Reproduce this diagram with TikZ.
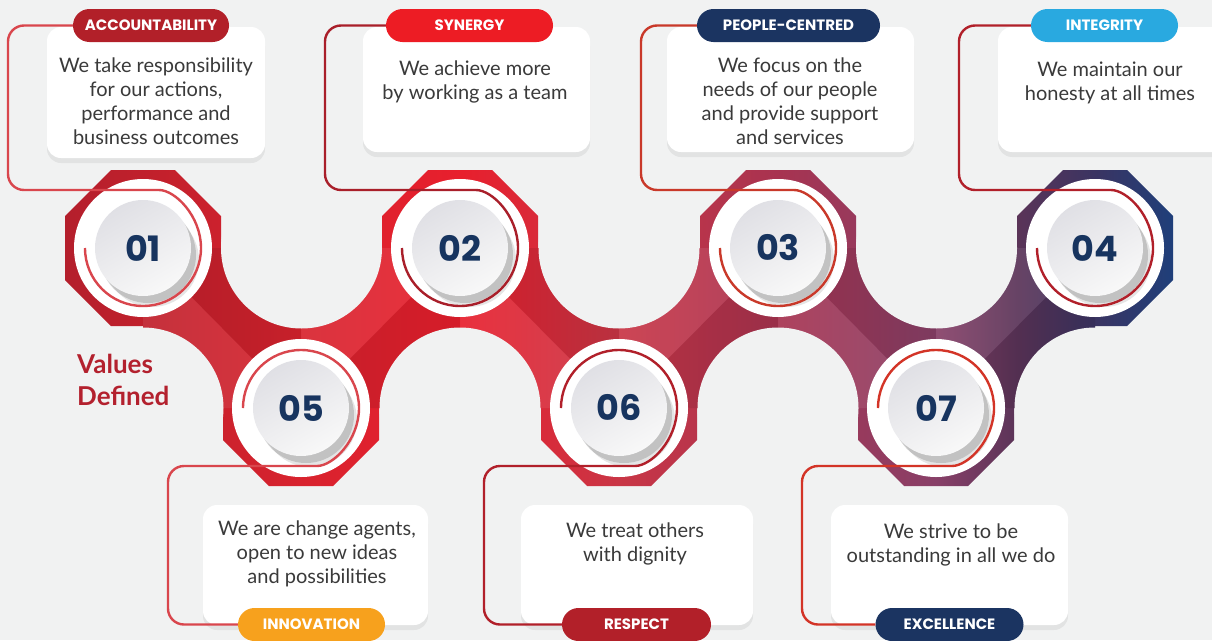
\documentclass[tikz,border=0pt]{standalone}
\usepackage{fontspec}
\setmainfont{Lato}
\newfontfamily\pillfont{Poppins}
\usetikzlibrary{shadows}
\definecolor{bgcol}{HTML}{F1F2F2}
\definecolor{valred}{HTML}{B3212E}
\definecolor{numblue}{HTML}{17345F}
\definecolor{bodytext}{HTML}{3A3A3A}
\definecolor{accred}{HTML}{B22029}
\definecolor{synred}{HTML}{ED1C24}
\definecolor{navy}{HTML}{1B3461}
\definecolor{intblue}{HTML}{29A9E0}
\definecolor{innorange}{HTML}{F7A11D}
\definecolor{linkA}{HTML}{D9464D}
\definecolor{linkB}{HTML}{A91F2A}
\definecolor{linkC}{HTML}{C9392A}
\definecolor{linkD}{HTML}{B1202A}
\definecolor{linkE}{HTML}{D33427}
\definecolor{discA}{HTML}{E0E0E5}
\definecolor{discB}{HTML}{F8F8F8}
%% colours of the band, left to right
\definecolor{bandA}{HTML}{B41F2C}
\definecolor{bandB}{HTML}{C0202C}
\definecolor{bandC}{HTML}{D8232E}
\definecolor{bandD}{HTML}{E81F2D}
\definecolor{bandE}{HTML}{C93646}
\definecolor{bandF}{HTML}{A83350}
\definecolor{bandG}{HTML}{884068}
\definecolor{bandH}{HTML}{5A3458}
\definecolor{bandI}{HTML}{3A3462}
\definecolor{bandJ}{HTML}{1F3F7A}
\pgfdeclarehorizontalshading{valband}{100bp}{color(0bp)=(bandA); color(25bp)=(bandA); color(28.5bp)=(bandB); color(35.6bp)=(bandC); color(42.9bp)=(bandD); color(50bp)=(bandE); color(57.1bp)=(bandF); color(64.3bp)=(bandG); color(68bp)=(bandH); color(71.5bp)=(bandI); color(75bp)=(bandJ); color(100bp)=(bandJ)}
\begin{document}
\begin{tikzpicture}
[x=1pt,y=-1pt,
 boxstyle/.style={fill=white, rounded corners=14pt, inner sep=0pt, drop shadow={shadow xshift=0pt, shadow yshift=-5pt, opacity=0.06, fill=black}},
 pillstyle/.style={rounded corners=16.5pt, minimum height=33pt, inner sep=0pt, text=white, font=\pillfont\bfseries\fontsize{15}{18}\selectfont},
 bodystyle/.style={align=center, inner sep=0pt, anchor=north, text=bodytext, font=\fontsize{20}{24}\selectfont},
 numstyle/.style={text=numblue, font=\pillfont\bfseries\fontsize{35}{35}\selectfont},
 ringstyle/.style={circle, fill=white, minimum size=138pt, inner sep=0pt},
 linkstyle/.style={line width=2.4pt, rounded corners=16pt}]
\useasboundingbox (0,0) rectangle (1212,640);
\fill[bgcol] (0,0) rectangle (1212,640);
%% the band of octagons
\shade[shading=valband] (65,216) -- (111,170) -- (175,170) -- (221,216) -- (221,248)
 -- (382,248) -- (382,216) -- (428,170) -- (492,170) -- (538,216) -- (538,248)
 -- (700,248) -- (700,216) -- (746,170) -- (810,170) -- (856,216) -- (856,248)
 -- (1017,248) -- (1017,216) -- (1063,170) -- (1127,170) -- (1173,216) -- (1173,280) -- (1127,326) -- (1095,326)
 -- (1095,408) -- (1014,408) -- (1014,440) -- (968,486) -- (904,486) -- (858,440) -- (858,408)
 -- (697,408) -- (697,440) -- (651,486) -- (587,486) -- (541,440) -- (541,408)
 -- (379,408) -- (379,440) -- (333,486) -- (269,486) -- (223,440) -- (223,408)
 -- (143,408) -- (143,326) -- (111,326) -- (65,280) -- cycle;
%% light and dark facets
\foreach \px/\py/\qx/\qy in {143/248/301/408, 301/408/460/248, 460/248/619/408,
  619/408/778/248, 778/248/936/408, 936/408/1095/248}{
  \fill[white, opacity=0.08] (\px,\py) -- (\qx,\qy) -- (\px,\qy) -- cycle;
  \fill[black, opacity=0.08] (\px,\py) -- (\qx,\qy) -- (\qx,\py) -- cycle;
}
%% round cut-outs
\foreach \cx/\cy in {301.5/248, 619/248, 936.5/248, 143/408, 460/408, 778/408, 1095/408}
  \fill[bgcol] (\cx,\cy) circle[radius=80.5];
%% numbered discs
\foreach \cx/\cy/\num in {143/248/01, 460/248/02, 778/248/03, 1095/248/04,
  301/408/05, 619/408/06, 936/408/07}{
  \node[ringstyle] (c\num) at (\cx,\cy) {};
  \fill[black!20, opacity=0.5] (\cx+9,\cy+12) circle[radius=47];
  \fill[black!35, opacity=0.55] (\cx+5,\cy+7) circle[radius=48];
  \shade[top color=discA, bottom color=discB, shading angle=30] (\cx,\cy) circle[radius=48];
  \node[numstyle] (n\num) at (\cx,\cy) {\num};
}
\node[anchor=north west, align=left, inner sep=0pt, text=valred, font=\bfseries\fontsize{26}{32}\selectfont] (title) at (77,354) {Values\\Defined};
%% text boxes
\node[boxstyle, minimum width=218pt, minimum height=131pt] (box1) at (156,92.5) {};
\node[boxstyle, minimum width=227pt, minimum height=125pt] (box2) at (476.5,89.5) {};
\node[boxstyle, minimum width=247pt, minimum height=125pt] (box3) at (790.5,89.5) {};
\node[boxstyle, minimum width=242pt, minimum height=125pt] (box4) at (1119,89.5) {};
\node[boxstyle, minimum width=225pt, minimum height=120pt] (box5) at (315.5,565) {};
\node[boxstyle, minimum width=232pt, minimum height=120pt] (box6) at (637,565) {};
\node[boxstyle, minimum width=237pt, minimum height=120pt] (box7) at (949.5,565) {};
\node[bodystyle] (txt1) at (156,57.5) {We take responsibility\\for our actions,\\performance and\\business outcomes};
\node[bodystyle] (txt2) at (475,60.5) {We achieve more\\by working as a team};
\node[bodystyle] (txt3) at (790,57.5) {We focus on the\\needs of our people\\and provide support\\and services};
\node[bodystyle] (txt4) at (1110,61.5) {We maintain our\\honesty at all times};
\node[bodystyle] (txt5) at (317,520.5) {We are change agents,\\open to new ideas\\and possibilities};
\node[bodystyle] (txt6) at (635,522.5) {We treat others\\with dignity};
\node[bodystyle] (txt7) at (951,523.5) {We strive to be\\outstanding in all we do};
%% name tags
\node[pillstyle, fill=accred, minimum width=156pt] (pacc) at (151,25.5) {ACCOUNTABILITY};
\node[pillstyle, fill=synred, minimum width=167pt] (psyn) at (469.5,25.5) {SYNERGY};
\node[pillstyle, fill=navy, minimum width=183pt] (ppeo) at (788.5,25.5) {PEOPLE-CENTRED};
\node[pillstyle, fill=intblue, minimum width=147pt] (pint) at (1104.5,25.5) {INTEGRITY};
\node[pillstyle, fill=innorange, minimum width=147pt] (pinn) at (311.5,624.5) {INNOVATION};
\node[pillstyle, fill=accred, minimum width=149pt] (pres) at (636.5,624.5) {RESPECT};
\node[pillstyle, fill=navy, minimum width=148pt] (pexc) at (949.5,624.5) {EXCELLENCE};
%% connectors from tags round the discs
\draw[linkstyle, linkA] (pacc.west) -- (8,25.5) -- (8,190) -- ([yshift=58pt]c01.center) arc[start angle=-90, end angle=180, radius=58];
\draw[linkstyle, linkB] (psyn.west) -- (325,25.5) -- (325,190) -- ([yshift=58pt]c02.center) arc[start angle=-90, end angle=180, radius=58];
\draw[linkstyle, linkC] (ppeo.west) -- (641,25.5) -- (641,190) -- ([yshift=58pt]c03.center) arc[start angle=-90, end angle=180, radius=58];
\draw[linkstyle, linkD] (pint.west) -- (959,25.5) -- (959,190) -- ([yshift=58pt]c04.center) arc[start angle=-90, end angle=180, radius=58];
\draw[linkstyle, linkA] ([xshift=-58pt]c05.center) arc[start angle=180, end angle=450, radius=58] -- (168,466) -- (168,624.5) -- (pinn.west);
\draw[linkstyle, linkD] ([xshift=-58pt]c06.center) arc[start angle=180, end angle=450, radius=58] -- (484,466) -- (484,624.5) -- (pres.west);
\draw[linkstyle, linkE] ([xshift=-58pt]c07.center) arc[start angle=180, end angle=450, radius=58] -- (802,466) -- (802,624.5) -- (pexc.west);
\end{tikzpicture}
\end{document}
